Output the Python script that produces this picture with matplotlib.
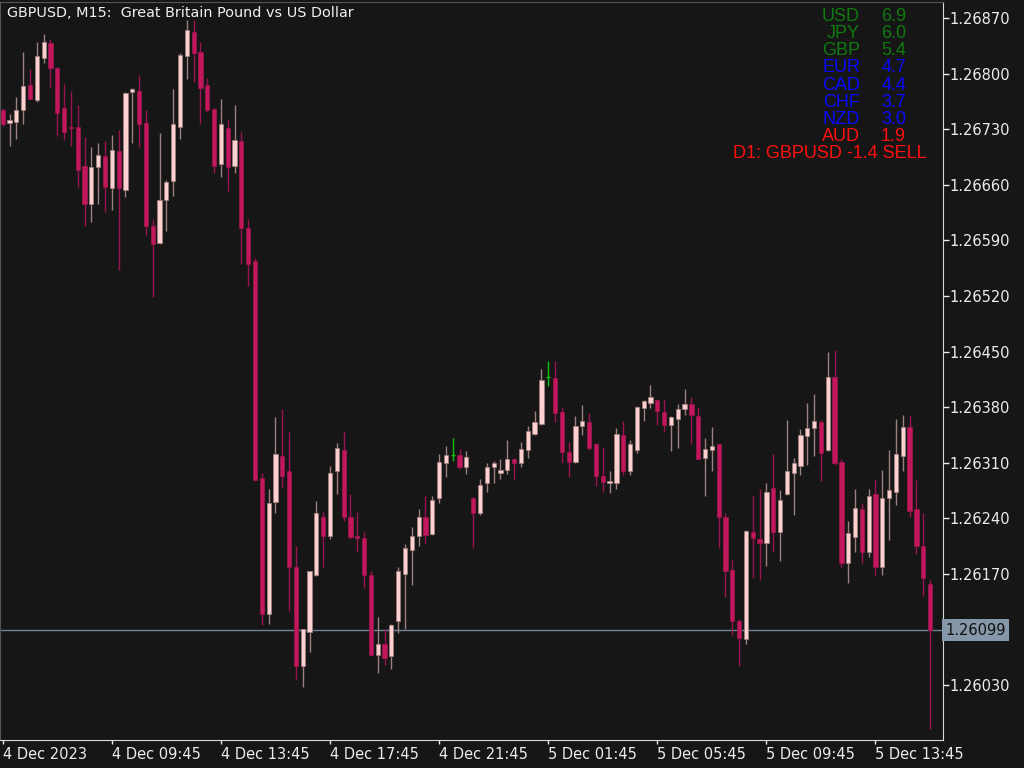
import matplotlib
matplotlib.use("Agg")
import matplotlib.pyplot as plt
from matplotlib.patches import Rectangle

# GBPUSD M15 bars, prices in points (price * 1e5)
OPEN = [126754, 126738, 126739, 126754, 126786, 126767, 126820, 126839, 126807, 126757,
        126733, 126733, 126684, 126636, 126683, 126696, 126656, 126703, 126654, 126777,
        126778, 126738, 126608, 126587, 126641, 126665, 126733, 126822, 126853, 126827,
        126786, 126756, 126686, 126731, 126684, 126715, 126606, 126564, 126291, 126120,
        126261, 126319, 126299, 126179, 126054, 126097, 126168, 126242, 126218, 126300,
        126326, 126242, 126218, 126215, 126168, 126068, 126082, 126067, 126111, 126170,
        126200, 126218, 126242, 126220, 126265, 126310, 126320, 126320, 126305, 126266,
        126247, 126285, 126305, 126297, 126301, 126315, 126310, 126326, 126346, 126359,
        126418, 126417, 126374, 126324, 126311, 126356, 126361, 126333, 126293, 126285,
        126285, 126345, 126300, 126326, 126379, 126385, 126389, 126374, 126358, 126365,
        126377, 126384, 126369, 126316, 126326, 126333, 126242, 126175, 126111, 126088,
        126223, 126214, 126209, 126278, 126223, 126270, 126297, 126306, 126344, 126354,
        126361, 126326, 126418, 126311, 126183, 126217, 126252, 126198, 126271, 126179,
        126265, 126273, 126319, 126355, 126252, 126205, 126157]
HIGH = [126757, 126749, 126770, 126827, 126806, 126840, 126850, 126844, 126808, 126787,
        126778, 126760, 126720, 126708, 126713, 126715, 126723, 126729, 126777, 126782,
        126798, 126754, 126617, 126725, 126666, 126780, 126826, 126868, 126867, 126840,
        126795, 126757, 126768, 126742, 126761, 126727, 126617, 126568, 126297, 126277,
        126368, 126377, 126349, 126205, 126101, 126174, 126262, 126248, 126306, 126335,
        126350, 126270, 126248, 126223, 126173, 126116, 126100, 126107, 126179, 126207,
        126229, 126252, 126268, 126268, 126321, 126331, 126341, 126327, 126325, 126267,
        126290, 126310, 126312, 126314, 126339, 126316, 126336, 126356, 126375, 126428,
        126438, 126438, 126380, 126336, 126369, 126383, 126373, 126335, 126330, 126300,
        126354, 126363, 126338, 126381, 126389, 126408, 126390, 126390, 126369, 126384,
        126403, 126393, 126380, 126341, 126355, 126334, 126246, 126188, 126113, 126225,
        126268, 126277, 126285, 126321, 126275, 126364, 126316, 126353, 126385, 126397,
        126364, 126450, 126452, 126314, 126237, 126277, 126259, 126277, 126290, 126301,
        126326, 126365, 126370, 126369, 126288, 126247, 126162]
LOW = [126734, 126709, 126718, 126736, 126768, 126764, 126814, 126782, 126722, 126717,
       126709, 126657, 126608, 126613, 126636, 126626, 126628, 126553, 126645, 126712,
       126707, 126597, 126519, 126586, 126602, 126646, 126718, 126793, 126790, 126737,
       126752, 126675, 126670, 126652, 126675, 126560, 126532, 126287, 126105, 126107,
       126247, 126278, 126123, 126037, 126028, 126071, 126167, 126178, 126214, 126271,
       126236, 126214, 126197, 126152, 126066, 126045, 126055, 126050, 126096, 126101,
       126156, 126205, 126209, 126219, 126259, 126292, 126312, 126302, 126296, 126202,
       126244, 126273, 126285, 126290, 126296, 126290, 126305, 126316, 126345, 126358,
       126407, 126361, 126310, 126292, 126310, 126345, 126326, 126281, 126273, 126272,
       126277, 126295, 126295, 126322, 126363, 126379, 126358, 126349, 126325, 126329,
       126370, 126333, 126314, 126268, 126300, 126203, 126141, 126093, 126054, 126082,
       126165, 126162, 126180, 126197, 126186, 126269, 126244, 126295, 126307, 126319,
       126287, 126325, 126307, 126178, 126159, 126197, 126184, 126191, 126169, 126169,
       126212, 126257, 126299, 126242, 126195, 126142, 125974]
CLOSE = [126737, 126742, 126754, 126785, 126768, 126822, 126840, 126807, 126751, 126727,
         126731, 126678, 126636, 126683, 126698, 126657, 126704, 126656, 126776, 126781,
         126736, 126608, 126586, 126641, 126664, 126736, 126824, 126855, 126826, 126782,
         126754, 126684, 126736, 126683, 126717, 126606, 126560, 126288, 126120, 126259,
         126321, 126293, 126179, 126054, 126100, 126173, 126246, 126218, 126297, 126329,
         126242, 126217, 126215, 126168, 126068, 126082, 126064, 126106, 126174, 126202,
         126218, 126242, 126219, 126263, 126311, 126320, 126320, 126305, 126317, 126246,
         126282, 126305, 126309, 126301, 126314, 126309, 126327, 126350, 126361, 126414,
         126418, 126373, 126324, 126311, 126356, 126363, 126329, 126293, 126286, 126287,
         126346, 126300, 126333, 126380, 126388, 126393, 126375, 126358, 126367, 126377,
         126384, 126370, 126315, 126327, 126331, 126242, 126173, 126111, 126089, 126224,
         126215, 126209, 126273, 126223, 126263, 126299, 126309, 126345, 126354, 126363,
         126322, 126418, 126310, 126184, 126222, 126253, 126197, 126268, 126179, 126265,
         126275, 126321, 126355, 126249, 126205, 126165, 126099]

Y_TICKS = [1.26030, 1.26099, 1.26170, 1.26240, 1.26310, 1.26380, 1.26450, 1.26520,
           1.26590, 1.26660, 1.26730, 1.26800, 1.26870]
X_TICK_BARS = [0, 16, 32, 48, 64, 80, 96, 112, 128]
X_TICK_LABELS = ["4 Dec 2023", "4 Dec 09:45", "4 Dec 13:45", "4 Dec 17:45", "4 Dec 21:45",
                 "5 Dec 01:45", "5 Dec 05:45", "5 Dec 09:45", "5 Dec 13:45"]
LAST_PRICE = 1.26099

STRENGTH_NAMES = ["USD", "JPY", "GBP", "EUR", "CAD", "CHF", "NZD", "AUD"]
STRENGTH_VALUES = ["6.9", "6.0", "5.4", "4.7", "4.4", "3.7", "3.0", "1.9"]
STRENGTH_COLORS = ["#0f7a0f", "#0f7a0f", "#0f7a0f", "#0a0aff", "#0a0aff", "#0a0aff",
                   "#0a0aff", "#ff0f0f"]
SIGNAL_TEXT = "D1: GBPUSD -1.4 SELL"

BG = "#161616"
BULL_BODY = "#ffd0d0"
BULL_WICK = "#9c8080"
BEAR_BODY = "#c2185b"
BEAR_WICK = "#9a1550"
DOJI = "#10c010"
AXIS_TXT = "#ececec"


def draw_candles(ax):
    w = 0.62
    for i in range(len(OPEN)):
        o, h, l, c = OPEN[i] / 1e5, HIGH[i] / 1e5, LOW[i] / 1e5, CLOSE[i] / 1e5
        if OPEN[i] == CLOSE[i]:
            # doji drawn as a green cross
            ax.vlines(i, l, h, color=DOJI, lw=1.0, zorder=3)
            ax.hlines(o, i - w / 2, i + w / 2, color=DOJI, lw=1.0, zorder=3)
            continue
        bull = c > o
        body = BULL_BODY if bull else BEAR_BODY
        wick = BULL_WICK if bull else BEAR_WICK
        ax.vlines(i, l, h, color=wick, lw=1.0, zorder=2)
        lo, hi = min(o, c), max(o, c)
        ax.add_patch(Rectangle((i - w / 2, lo), w, max(hi - lo, 0.000012),
                               facecolor=body, edgecolor=wick, lw=0.6, zorder=3))


fig = plt.figure(figsize=(10.24, 7.68), dpi=100, facecolor=BG)
ax = fig.add_axes([0.0, 1 - 740 / 768, 943 / 1024, 738 / 768], facecolor=BG)

draw_candles(ax)

ax.set_xlim(-0.4, 137.9)
ax.set_ylim(1.259607, 1.268902)

# current price line and label
ax.axhline(LAST_PRICE, color="#6f8296", lw=1.0, zorder=1)
ax.annotate(f"{LAST_PRICE:.5f}", xy=(1, LAST_PRICE), xycoords=("axes fraction", "data"),
            xytext=(1.5, 0), textcoords="offset points", va="center", ha="left",
            fontsize=10.5, color="#111111", annotation_clip=False,
            bbox=dict(boxstyle="square,pad=0.22", facecolor="#8597a9", edgecolor="none"))

ax.yaxis.tick_right()
ax.set_yticks([t for t in Y_TICKS if t != LAST_PRICE])
ax.set_yticklabels([f"{t:.5f}" for t in Y_TICKS if t != LAST_PRICE])
ax.tick_params(axis="y", colors=AXIS_TXT, labelsize=10.5, length=4, width=1, pad=0.5)

ax.set_xticks(X_TICK_BARS)
ax.set_xticklabels(X_TICK_LABELS)
for lbl in ax.get_xticklabels():
    lbl.set_horizontalalignment("left")
ax.tick_params(axis="x", colors=AXIS_TXT, labelsize=10.5, length=3, width=1, pad=2)

for side in ["left", "top"]:
    ax.spines[side].set_color("#555555")
for side in ["right", "bottom"]:
    ax.spines[side].set_color("#d8d8d8")

fig.text(7 / 1024, 1 - 13 / 768, "GBPUSD, M15:  Great Britain Pound vs US Dollar",
         color="#f0f0f0", fontsize=10.4, va="center", ha="left")

for k, (name, val, col) in enumerate(zip(STRENGTH_NAMES, STRENGTH_VALUES, STRENGTH_COLORS)):
    y = 1 - (16.7 + 17.1 * k) / 768
    fig.text(860 / 1024, y, name, color=col, fontsize=13, ha="right", va="center",
             family="Liberation Sans")
    fig.text(906 / 1024, y, val, color=col, fontsize=13, ha="right", va="center",
             family="Liberation Sans")
fig.text(927 / 1024, 1 - (16.7 + 17.1 * 8) / 768, SIGNAL_TEXT, color="#ff0f0f", fontsize=13,
         ha="right", va="center", family="Liberation Sans")

fig.savefig("out.png", dpi=100, facecolor=BG)
